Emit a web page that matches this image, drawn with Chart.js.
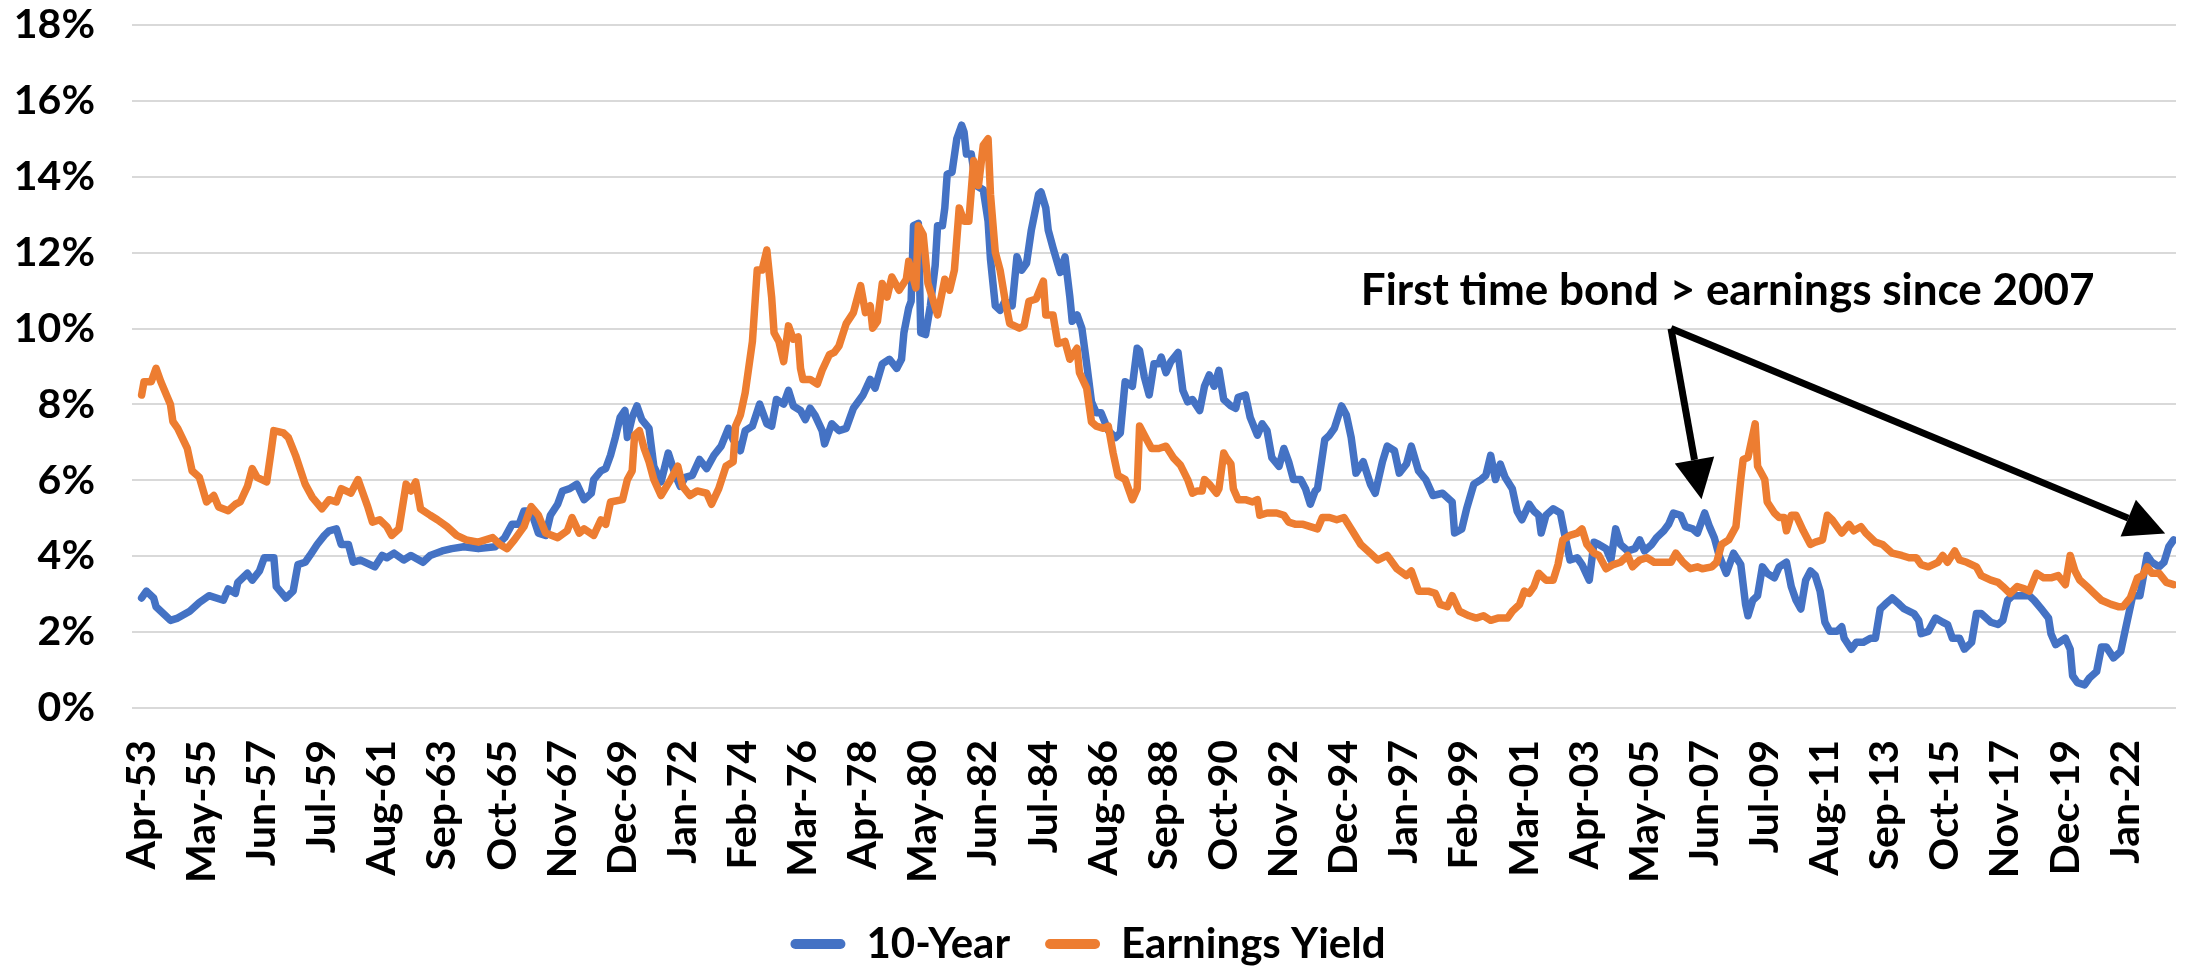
<!DOCTYPE html>
<html>
<head>
<meta charset="utf-8">
<title>10-Year vs Earnings Yield</title>
<script src="https://cdn.jsdelivr.net/npm/chart.js@4.4.1/dist/chart.umd.min.js"></script>
<style>
  html, body { margin: 0; padding: 0; background: #fff; }
  #wrap { width: 2186px; height: 968px; }
</style>
</head>
<body>
<div id="wrap"><canvas id="yieldChart"></canvas></div>
<script>
// x values are months counted from Apr-53 (0 = Apr-53)
const tickLabels = ['Apr-53', 'May-55', 'Jun-57', 'Jul-59', 'Aug-61', 'Sep-63', 'Oct-65', 'Nov-67',
  'Dec-69', 'Jan-72', 'Feb-74', 'Mar-76', 'Apr-78', 'May-80', 'Jun-82', 'Jul-84', 'Aug-86',
  'Sep-88', 'Oct-90', 'Nov-92', 'Dec-94', 'Jan-97', 'Feb-99', 'Mar-01', 'Apr-03', 'May-05',
  'Jun-07', 'Jul-09', 'Aug-11', 'Sep-13', 'Oct-15', 'Nov-17', 'Dec-19', 'Jan-22'];
const tickStep = 25; // one label every 25 months

const tenYearMonths = [0, 2, 5, 6, 10, 12, 15, 20, 24, 28, 34, 36, 39, 40, 44, 46, 49, 51, 55, 56,
  60, 63, 65, 68, 70, 73, 76, 78, 81, 83, 86, 88, 91, 97, 100, 102, 105, 109, 112, 117,
  120, 125, 129, 134, 140, 147, 151, 154, 157, 159, 162, 165, 168, 170, 173, 175, 178, 181, 184, 187,
  188, 191, 193, 195, 197, 199, 201, 202, 204, 206, 208, 211, 213, 216, 219, 222, 224, 226, 229, 232,
  235, 238, 241, 244, 246, 249, 251, 254, 257, 260, 262, 264, 267, 269, 271, 274, 276, 278, 280, 283,
  284, 287, 290, 293, 296, 300, 303, 305, 308, 311, 314, 316, 317, 319, 320, 321, 323, 324, 326, 328,
  330, 331, 333, 334, 335, 337, 339, 341, 342, 343, 345, 347, 350, 352, 353, 355, 357, 359, 362, 364,
  366, 368, 370, 373, 374, 376, 377, 379, 382, 384, 386, 387, 389, 391, 393, 395, 397, 399, 402, 405,
  407, 409, 412, 414, 415, 417, 419, 421, 423, 424, 426, 428, 431, 433, 435, 437, 440, 442, 444, 446,
  448, 450, 453, 455, 456, 459, 461, 464, 466, 468, 470, 473, 475, 477, 479, 482, 484, 486, 488, 489,
  492, 494, 496, 499, 501, 503, 505, 508, 511, 513, 516, 518, 521, 523, 526, 528, 531, 534, 537, 541,
  545, 546, 549, 551, 554, 557, 559, 561, 563, 565, 567, 570, 572, 574, 577, 579, 581, 582, 584, 587,
  590, 592, 594, 597, 599, 602, 604, 606, 609, 611, 613, 615, 618, 621, 623, 625, 628, 630, 633, 635,
  637, 640, 642, 645, 647, 650, 652, 654, 656, 659, 662, 665, 667, 668, 670, 672, 674, 676, 679, 681,
  684, 686, 688, 690, 692, 694, 696, 698, 700, 702, 705, 707, 708, 711, 713, 716, 719, 721, 723, 725,
  728, 731, 733, 737, 739, 740, 743, 746, 749, 751, 753, 756, 758, 761, 763, 765, 769, 772, 774, 776,
  778, 782, 785, 787, 790, 793, 794, 796, 800, 802, 803, 805, 808, 810, 813, 815, 817, 820, 823, 825,
  828, 831, 834, 836, 839, 841, 843, 845];
const tenYear = [2.9, 3.08, 2.9, 2.67, 2.43, 2.31, 2.37, 2.55, 2.78, 2.96, 2.84, 3.14, 3.02, 3.31, 3.55, 3.37, 3.61, 3.96, 3.96, 3.2,
  2.9, 3.08, 3.78, 3.84, 4.02, 4.31, 4.55, 4.67, 4.72, 4.31, 4.31, 3.84, 3.9, 3.72, 4.02, 3.96, 4.08, 3.9, 4.02, 3.84,
  4.02, 4.14, 4.2, 4.25, 4.2, 4.25, 4.49, 4.84, 4.84, 5.19, 5.19, 4.61, 4.55, 5.08, 5.37, 5.72, 5.78, 5.9, 5.49, 5.66,
  6.02, 6.25, 6.31, 6.66, 7.13, 7.66, 7.84, 7.13, 7.66, 7.96, 7.6, 7.37, 6.37, 5.96, 6.72, 6.13, 5.84, 6.08, 6.13, 6.55,
  6.31, 6.66, 6.9, 7.37, 7.07, 6.78, 7.31, 7.43, 8.01, 7.49, 7.43, 8.13, 8.01, 8.37, 7.96, 7.84, 7.6, 7.9, 7.72, 7.31,
  6.96, 7.49, 7.31, 7.37, 7.9, 8.25, 8.66, 8.43, 9.07, 9.19, 8.95, 9.19, 9.89, 10.54, 10.72, 12.71, 12.77, 9.89, 9.84, 10.6,
  11.66, 12.71, 12.71, 13.18, 14.07, 14.12, 15.0, 15.36, 15.18, 14.6, 14.6, 13.77, 13.66, 12.83, 11.83, 10.6, 10.48, 10.72, 10.6, 11.89,
  11.54, 11.72, 12.6, 13.54, 13.6, 13.18, 12.6, 12.13, 11.48, 11.89, 10.83, 10.19, 10.36, 10.01, 9.07, 8.07, 7.78, 7.78, 7.31, 7.13,
  7.25, 8.6, 8.48, 9.48, 9.42, 8.72, 8.25, 9.07, 9.07, 9.25, 8.84, 9.13, 9.37, 8.37, 8.07, 8.13, 7.84, 8.48, 8.78, 8.48,
  8.9, 8.13, 7.96, 7.9, 8.19, 8.25, 7.66, 7.19, 7.49, 7.31, 6.6, 6.37, 6.84, 6.49, 6.02, 6.02, 5.78, 5.37, 5.72, 5.78,
  7.07, 7.19, 7.37, 7.96, 7.72, 7.13, 6.19, 6.49, 5.9, 5.66, 6.49, 6.9, 6.78, 6.19, 6.43, 6.9, 6.25, 6.02, 5.6, 5.66,
  5.43, 4.61, 4.72, 5.25, 5.9, 6.02, 6.13, 6.66, 6.02, 6.43, 6.08, 5.78, 5.19, 4.96, 5.37, 5.19, 5.08, 4.61, 5.08, 5.25,
  5.14, 4.49, 3.9, 3.96, 3.78, 3.37, 4.37, 4.31, 4.2, 3.9, 4.72, 4.31, 4.14, 4.2, 4.43, 4.14, 4.31, 4.49, 4.67, 4.84,
  5.14, 5.08, 4.78, 4.72, 4.61, 5.14, 4.78, 4.49, 4.02, 3.55, 4.08, 3.78, 2.73, 2.43, 2.84, 2.96, 3.72, 3.55, 3.43, 3.72,
  3.84, 3.2, 2.84, 2.61, 3.37, 3.61, 3.49, 3.08, 2.26, 2.02, 2.02, 2.14, 1.84, 1.55, 1.73, 1.73, 1.84, 1.84, 2.61, 2.73,
  2.9, 2.73, 2.61, 2.49, 2.31, 1.96, 2.02, 2.37, 2.26, 2.2, 1.84, 1.84, 1.55, 1.73, 2.49, 2.49, 2.26, 2.2, 2.31, 2.84,
  2.96, 2.96, 2.96, 2.84, 2.61, 2.37, 1.96, 1.67, 1.84, 1.55, 0.85, 0.67, 0.61, 0.79, 0.96, 1.61, 1.61, 1.32, 1.49, 2.08,
  2.96, 2.96, 4.02, 3.84, 3.72, 3.84, 4.25, 4.43];

const earningsMonths = [0, 1, 4, 6, 8, 12, 13, 15, 19, 21, 24, 27, 30, 32, 36, 39, 41, 44, 46, 48,
  52, 54, 55, 59, 61, 64, 68, 71, 75, 78, 81, 83, 87, 90, 94, 96, 99, 102, 104, 107,
  110, 112, 114, 116, 120, 123, 127, 131, 135, 140, 146, 149, 152, 155, 159, 162, 165, 168, 173, 177,
  179, 182, 184, 188, 191, 193, 195, 200, 202, 204, 205, 207, 209, 211, 213, 216, 220, 223, 225, 228,
  231, 235, 237, 240, 243, 246, 247, 249, 251, 254, 256, 258, 260, 262, 263, 265, 267, 269, 271, 273,
  274, 275, 278, 281, 283, 286, 288, 290, 293, 296, 299, 301, 303, 304, 306, 308, 310, 312, 315, 318,
  319, 322, 323, 325, 327, 331, 334, 336, 338, 340, 342, 344, 346, 348, 350, 352, 353, 355, 357, 359,
  361, 365, 367, 369, 372, 375, 376, 379, 381, 384, 386, 389, 390, 393, 395, 397, 400, 402, 404, 406,
  409, 412, 414, 415, 418, 420, 423, 426, 429, 432, 435, 437, 439, 441, 442, 444, 447, 448, 450, 451,
  453, 454, 456, 459, 462, 464, 465, 468, 472, 475, 477, 480, 483, 486, 489, 491, 494, 497, 500, 503,
  507, 511, 514, 518, 522, 526, 528, 531, 535, 538, 540, 543, 545, 548, 552, 555, 558, 561, 564, 568,
  570, 573, 575, 577, 579, 581, 584, 587, 589, 591, 594, 597, 599, 601, 604, 606, 609, 612, 615, 618,
  620, 623, 626, 629, 633, 636, 638, 641, 644, 647, 649, 653, 655, 657, 660, 663, 665, 666, 668, 669,
  671, 672, 675, 676, 679, 681, 683, 684, 686, 688, 691, 694, 696, 699, 701, 703, 707, 710, 712, 715,
  717, 721, 724, 728, 732, 735, 738, 740, 743, 747, 749, 751, 754, 756, 759, 763, 765, 769, 772, 774,
  777, 780, 783, 785, 788, 791, 794, 797, 800, 802, 804, 806, 809, 812, 815, 819, 822, 824, 827, 830,
  832, 834, 836, 839, 842, 845];
const earningsYield = [8.25, 8.6, 8.6, 8.95, 8.6, 8.0, 7.55, 7.37, 6.84, 6.25, 6.08, 5.43, 5.6, 5.3, 5.2, 5.37, 5.43, 5.84, 6.31, 6.08,
  5.96, 6.84, 7.31, 7.25, 7.13, 6.66, 5.9, 5.55, 5.25, 5.49, 5.43, 5.78, 5.66, 6.02, 5.31, 4.9, 4.96, 4.78, 4.55, 4.72,
  5.9, 5.72, 5.96, 5.25, 5.08, 4.96, 4.78, 4.55, 4.43, 4.37, 4.49, 4.31, 4.2, 4.43, 4.78, 5.31, 5.08, 4.61, 4.49, 4.67,
  5.02, 4.61, 4.72, 4.55, 4.96, 4.84, 5.43, 5.49, 6.02, 6.25, 7.19, 7.31, 6.84, 6.49, 6.02, 5.6, 6.02, 6.37, 5.84, 5.6,
  5.72, 5.66, 5.37, 5.78, 6.37, 6.49, 7.43, 7.72, 8.31, 9.66, 11.54, 11.54, 12.07, 10.83, 9.89, 9.66, 9.13, 10.07, 9.72, 9.78,
  8.95, 8.66, 8.66, 8.54, 8.9, 9.31, 9.37, 9.54, 10.13, 10.42, 11.13, 10.42, 10.6, 10.01, 10.19, 11.19, 10.83, 11.36, 11.01, 11.3,
  11.77, 11.07, 12.71, 12.48, 11.19, 10.36, 11.3, 11.01, 11.54, 13.18, 12.83, 12.83, 14.42, 13.77, 14.83, 15.0, 13.54, 12.01, 11.54, 10.78,
  10.13, 10.01, 10.07, 10.72, 10.78, 11.25, 10.36, 10.36, 9.6, 9.66, 9.19, 9.48, 8.84, 8.43, 7.54, 7.43, 7.37, 7.43, 6.72, 6.13,
  6.02, 5.49, 5.78, 7.43, 7.07, 6.84, 6.84, 6.9, 6.6, 6.4, 6.02, 5.66, 5.72, 5.72, 6.02, 5.9, 5.66, 5.78, 6.72, 6.6,
  6.43, 5.78, 5.49, 5.49, 5.43, 5.49, 5.08, 5.14, 5.14, 5.08, 4.9, 4.84, 4.84, 4.78, 4.72, 5.02, 5.02, 4.96, 5.02, 4.72,
  4.31, 4.08, 3.9, 4.02, 3.67, 3.49, 3.61, 3.08, 3.08, 3.02, 2.73, 2.67, 2.96, 2.55, 2.43, 2.37, 2.43, 2.31, 2.37, 2.37,
  2.55, 2.73, 3.08, 3.02, 3.2, 3.55, 3.37, 3.37, 3.78, 4.43, 4.55, 4.61, 4.72, 4.31, 4.08, 4.02, 3.67, 3.78, 3.84, 4.02,
  3.72, 3.9, 3.96, 3.84, 3.84, 3.84, 4.08, 3.84, 3.67, 3.72, 3.67, 3.72, 3.84, 4.31, 4.43, 4.78, 6.02, 6.55, 6.6, 6.9,
  7.49, 6.37, 6.02, 5.43, 5.14, 5.02, 5.02, 4.67, 5.08, 5.08, 4.67, 4.31, 4.37, 4.43, 5.08, 4.96, 4.61, 4.84, 4.67, 4.78,
  4.61, 4.37, 4.31, 4.08, 4.02, 3.96, 3.96, 3.78, 3.72, 3.84, 4.02, 3.84, 4.14, 3.9, 3.84, 3.72, 3.49, 3.37, 3.31, 3.2,
  3.02, 3.2, 3.14, 3.08, 3.55, 3.43, 3.43, 3.49, 3.25, 4.02, 3.61, 3.37, 3.2, 3.02, 2.84, 2.73, 2.67, 2.67, 2.9, 3.43,
  3.49, 3.72, 3.55, 3.55, 3.31, 3.25];

const toPoints = (xs, ys) => xs.map((m, i) => ({ x: m, y: ys[i] }));

const textFont = 'Lato, "Open Sans", sans-serif';
const tickFont = { family: textFont, size: 41, weight: 'bold' };

// arrows and the note, placed in data units
const notePlugin = {
  id: 'note',
  afterDatasetsDraw(chart, args, opts) {
    const { ctx, scales: { x, y } } = chart;
    ctx.save();
    ctx.fillStyle = '#000';
    ctx.strokeStyle = '#000';
    ctx.font = 'bold ' + opts.fontSize + 'px ' + textFont;
    ctx.textAlign = 'left';
    ctx.textBaseline = 'middle';
    ctx.fillText(opts.text, x.getPixelForValue(opts.at[0]), y.getPixelForValue(opts.at[1]));

    const ox = x.getPixelForValue(opts.from[0]);
    const oy = y.getPixelForValue(opts.from[1]);
    opts.tips.forEach(t => {
      const tx = x.getPixelForValue(t[0]);
      const ty = y.getPixelForValue(t[1]);
      const ang = Math.atan2(ty - oy, tx - ox);
      const head = opts.headLength;
      const bx = tx - head * Math.cos(ang);
      const by = ty - head * Math.sin(ang);
      ctx.lineWidth = opts.lineWidth;
      ctx.beginPath();
      ctx.moveTo(ox, oy);
      ctx.lineTo(bx, by);
      ctx.stroke();
      const hw = opts.headWidth / 2;
      ctx.beginPath();
      ctx.moveTo(tx, ty);
      ctx.lineTo(bx + hw * Math.sin(ang), by - hw * Math.cos(ang));
      ctx.lineTo(bx - hw * Math.sin(ang), by + hw * Math.cos(ang));
      ctx.closePath();
      ctx.fill();
    });
    ctx.restore();
  }
};

const chart = new Chart(document.getElementById('yieldChart'), {
  type: 'line',
  data: {
    datasets: [{
      label: '10-Year',
      data: toPoints(tenYearMonths, tenYear),
      borderColor: '#4472C4',
      backgroundColor: '#4472C4',
      order: 1
    }, {
      label: 'Earnings Yield',
      data: toPoints(earningsMonths, earningsYield),
      borderColor: '#ED7D31',
      backgroundColor: '#ED7D31',
      order: 0
    }]
  },
  options: {
    responsive: true,
    maintainAspectRatio: false,
    animation: false,
    devicePixelRatio: 1,
    layout: { padding: { top: 25, right: 10, left: 0, bottom: -7 } },
    elements: {
      line: { borderWidth: 7.5, tension: 0, borderJoinStyle: 'round', borderCapStyle: 'round' },
      point: { radius: 0 }
    },
    scales: {
      x: {
        type: 'linear',
        min: -4,
        max: 846,
        // hidden tick marks give the gap between axis and labels
        grid: { display: false, drawTicks: true, tickLength: 32 },
        border: { display: false },
        afterBuildTicks: scale => {
          scale.ticks = tickLabels.map((_, i) => ({ value: i * tickStep }));
        },
        afterFit: scale => { scale.height = 180; },
        ticks: {
          autoSkip: false,
          minRotation: 90,
          maxRotation: 90,
          padding: 0,
          color: '#000',
          font: tickFont,
          callback: v => tickLabels[Math.round(v / tickStep)]
        }
      },
      y: {
        min: 0,
        max: 18,
        grid: { color: '#d9d9d9', lineWidth: 2, drawTicks: true, tickLength: 37, tickColor: 'rgba(0,0,0,0)' },
        border: { display: false },
        afterFit: scale => { scale.width = 132; },
        ticks: {
          stepSize: 2,
          padding: 0,
          color: '#000',
          font: tickFont,
          callback: v => v + '%'
        }
      }
    },
    plugins: {
      tooltip: { enabled: false },
      legend: {
        position: 'bottom',
        labels: {
          color: '#000',
          font: { family: textFont, size: 42, weight: 'bold' },
          boxWidth: 55,
          boxHeight: 10,
          useBorderRadius: true,
          borderRadius: 5,
          padding: 35,
          sort: (a, b) => a.datasetIndex - b.datasetIndex,
          generateLabels: c => Chart.defaults.plugins.legend.labels.generateLabels(c)
            .map(l => ({ ...l, lineWidth: 0 }))
        }
      },
      note: {
        text: 'First time bond > earnings since 2007',
        fontSize: 44,
        at: [507, 11.0],
        from: [636, 10.0],
        tips: [[648.7, 5.5], [841.5, 4.6]],
        lineWidth: 7,
        headLength: 40,
        headWidth: 40
      }
    }
  },
  plugins: [notePlugin]
});
</script>
</body>
</html>
